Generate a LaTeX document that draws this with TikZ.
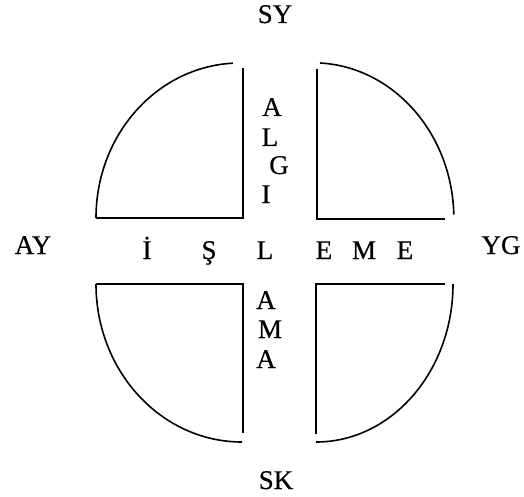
\documentclass[tikz,border=0pt]{standalone}
\usepackage{fontspec}
\setmainfont{Liberation Serif}
\newfontfamily\lblfont[FakeBold=0.5]{Liberation Serif}
\begin{document}
\begin{tikzpicture}[x=1pt,y=-1pt,
  lbl/.style={anchor=base,inner sep=0pt,font=\lblfont\fontsize{27}{27}\selectfont},
  frame/.style={line width=2.6pt,line cap=butt,line join=miter},
  curve/.style={line width=1.6pt}]
\useasboundingbox (0,0) rectangle (524,497);
% straight corners
\draw[frame] (243,68) -- (243,218) -- (96,218);
\draw[frame] (317,69) -- (317,219) -- (445,219);
\draw[frame] (96,284) -- (243,284) -- (243,433);
\draw[frame] (445,284) -- (316,284) -- (316,434);
% arcs
\draw[curve] (96,218) arc[start angle=180,end angle=267.2,x radius=144,y radius=155];
\draw[curve] (320,63) arc[start angle=-87.1,end angle=-1.5,x radius=141,y radius=156];
\draw[curve] (96,284) arc[start angle=180,end angle=90,x radius=146,y radius=158];
\draw[curve] (453,284) arc[start angle=0,end angle=90,x radius=137,y radius=158];
% outer labels
\node[lbl] (sy) at (275,23) {SY};
\node[lbl] (sk) at (276,489) {SK};
\node[lbl] (ay) at (33,254) {AY};
\node[lbl] (yg) at (501,254) {YG};
% middle row
\node[lbl] (i1) at (147,259) {İ};
\node[lbl] (s1) at (209,259) {Ş};
\node[lbl] (l1) at (265,259) {L};
\node[lbl] (e1) at (324,259) {E};
\node[lbl] (m1) at (364,259) {M};
\node[lbl] (e2) at (405,259) {E};
% vertical top
\node[lbl] (a1) at (272,116) {A};
\node[lbl] (l2) at (270,146) {L};
\node[lbl] (g1) at (279,174) {G};
\node[lbl] (i2) at (266,203) {I};
% vertical bottom
\node[lbl] (a2) at (266,309) {A};
\node[lbl] (m2) at (270,338) {M};
\node[lbl] (a3) at (266,368) {A};
\end{tikzpicture}
\end{document}
